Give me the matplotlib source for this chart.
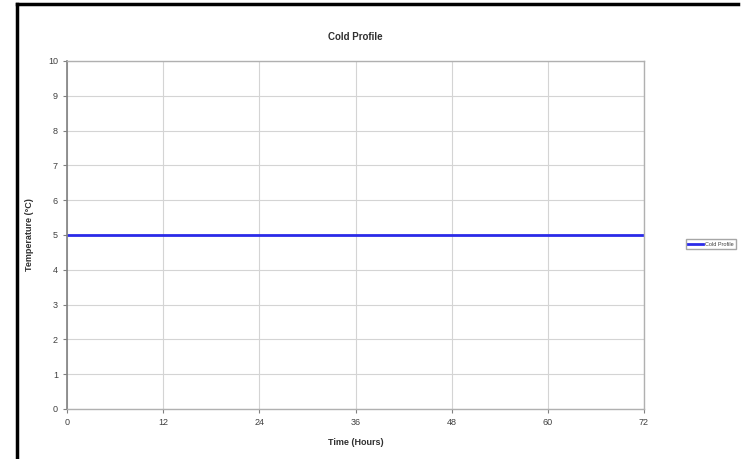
import matplotlib
matplotlib.use("Agg")
import matplotlib.pyplot as plt
from matplotlib.lines import Line2D

time_hours = [0, 72]
temperature = [5, 5]
x_ticks = [0, 12, 24, 36, 48, 60, 72]
y_ticks = list(range(0, 11))
series_name = "Cold Profile"

plt.rcParams['font.family'] = ['Liberation Sans', 'DejaVu Sans']

W, H = 745, 459
fig = plt.figure(figsize=(W / 100, H / 100), dpi=100)
ax = fig.add_axes([67 / W, 50 / H, (644 - 67) / W, (409 - 61) / H])

ax.plot(time_hours, temperature, color='#2B2BE8', lw=2, label=series_name, solid_capstyle='butt')
ax.set_xlim(0, 72)
ax.set_ylim(0, 10)
ax.set_xticks(x_ticks)
ax.set_yticks(y_ticks)
ax.grid(True, color='#d4d4d4', lw=0.8)
ax.set_axisbelow(True)
for s in ['top', 'right', 'bottom']:
    ax.spines[s].set_color('#b0b0b0')
    ax.spines[s].set_linewidth(1.0)
ax.spines['left'].set_color('#808080')
ax.spines['left'].set_linewidth(1.2)
ax.tick_params(axis='both', labelsize=6.5, colors='#808080', labelcolor='#404040', length=3, width=0.8)
ax.set_title("Cold Profile", fontsize=7, fontweight='bold', color='#303030', pad=15)
ax.set_xlabel("Time (Hours)", fontsize=6.5, fontweight='bold', color='#303030', labelpad=8)
ax.set_ylabel("Temperature (°C)", fontsize=6.5, fontweight='bold', color='#303030', labelpad=10)

# legend
fig.legend(handles=[Line2D([0], [0], color='#2B2BE8', lw=2)], labels=[series_name],
           loc='center left', bbox_to_anchor=(686 / W, 1 - 244 / H), fontsize=4,
           frameon=True, fancybox=False, edgecolor='#909090', handlelength=2.6,
           handletextpad=0.4, borderpad=0.4, borderaxespad=0, labelcolor='#404040')

# black frame (top and left edges)
fig.add_artist(Line2D([17 / W, 738 / W], [1 - 4 / H, 1 - 4 / H], color='black', lw=2.5,
                      transform=fig.transFigure))
fig.add_artist(Line2D([17 / W, 17 / W], [0, 1 - 4 / H], color='black', lw=2.5,
                      transform=fig.transFigure))

fig.savefig("out.png", dpi=100)
